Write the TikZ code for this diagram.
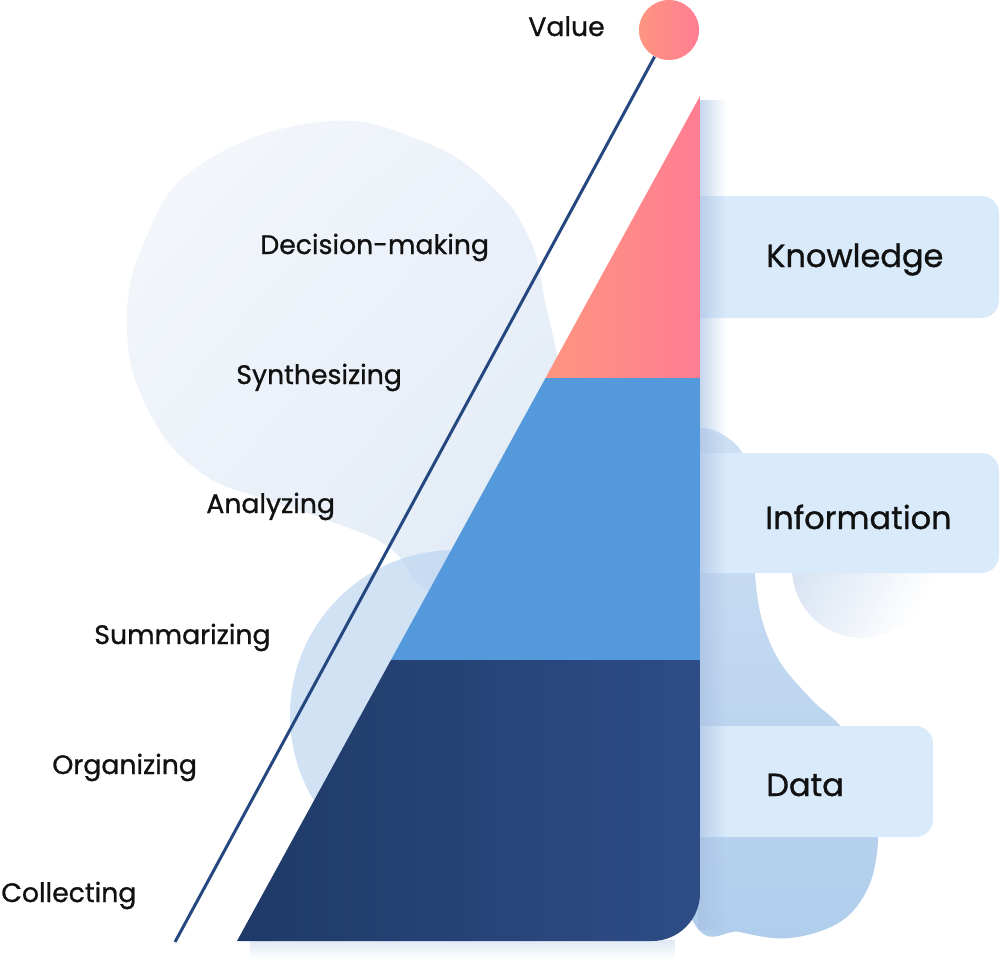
\documentclass[tikz,border=0pt]{standalone}
\usepackage{fontspec}
\setmainfont{Poppins}
\newfontfamily\labfont{Poppins}[FakeBold=0.9]
\usetikzlibrary{fadings,shadings}
\definecolor{boxc}{HTML}{D9EAFB}
\definecolor{navyline}{HTML}{25477F}
\definecolor{infoc}{HTML}{5599DD}
\definecolor{dataL}{HTML}{1F3A68}
\definecolor{dataR}{HTML}{2E4D86}
\definecolor{knowL}{HTML}{FF9580}
\definecolor{knowR}{HTML}{FF7D93}
\definecolor{blobA1}{HTML}{F5F8FC}
\definecolor{blobA2}{HTML}{DDE8F5}
\definecolor{blobA3}{HTML}{EBF1F9}
\definecolor{blobB}{HTML}{BCD5F0}
\definecolor{blobC1}{HTML}{D0E1F4}
\definecolor{blobC2}{HTML}{AFCDEC}
\definecolor{blobD}{HTML}{D3E0F1}
\definecolor{shadowc}{HTML}{A8C0E2}
\definecolor{textc}{HTML}{111111}
\begin{document}
\begin{tikzpicture}[x=0.02cm,y=-0.02cm,
  lab/.style={anchor=base west, inner sep=0pt, text=textc, font=\labfont\fontsize{15.2}{17}\selectfont},
  biglab/.style={anchor=base west, inner sep=0pt, text=textc, font=\labfont\fontsize{18.2}{21}\selectfont},
  tag/.style={fill=boxc, rounded corners=10pt},
  link/.style={draw=navyline, line width=1.7pt}]
\useasboundingbox (0,0) rectangle (1000,967);
% background blobs
\shade[upper left=blobA1, upper right=blobA3, lower left=blobA3, lower right=blobA2]
  plot[smooth cycle, tension=0.75] coordinates {(320,122) (420,140) (490,185) (530,240) (547,310) (565,380) (600,470) (520,620) (430,592) (390,548) (330,521) (267,500) (200,472) (150,413) (127,330) (145,240) (200,165)};
\fill[blobB, fill opacity=0.7] (455,715) circle[radius=3.3cm];
\shade[top color=blobC1, bottom color=blobC2]
  plot[smooth cycle, tension=0.6] coordinates {(660,440) (700,428) (728,438) (746,462) (752,520) (755,575) (762,620) (780,662) (812,700) (845,732) (872,790) (878,840) (868,888) (840,922) (790,938) (740,932) (690,915) (640,700)};
\shade[left color=blobD, right color=white, shading angle=60] (862,568) circle[radius=1.4cm];
% tag boxes
\fill[tag] (680,196) rectangle (999,318);
\fill[tag] (680,453) rectangle (999,573);
\fill[tag] (680,726) rectangle (933,837);
% pyramid shadow
\fill[shadowc, path fading=east, fill opacity=0.7] (698,100) rectangle (726,930);
\fill[shadowc, path fading=south, fill opacity=0.35] (250,940) rectangle (675,960);
% pyramid
\begin{scope}
  \clip (700,96) -- (700,893) .. controls (700,919.5) and (678.5,941) .. (652,941) -- (237,941) -- cycle;
  \shade[left color=knowL, right color=knowR] (546,90) rectangle (700,378);
  \fill[infoc] (230,378) rectangle (700,660);
  \shade[left color=dataL, right color=dataR] (237,660) rectangle (700,945);
\end{scope}
% value circle and line
\node[circle, minimum size=1.2cm, inner sep=0pt, left color=knowL, right color=knowR] (valuec) at (669,30) {};
\coordinate (lineend) at (175,942);
\draw[link] (lineend) -- (valuec);
% labels
\node[lab] (value) at (528,36) {Value};
\node[lab] (decision) at (260,254) {Decision-making};
\node[lab] (synth) at (236,384) {Synthesizing};
\node[lab] (analyz) at (206,513) {Analyzing};
\node[lab] (summ) at (94,644) {Summarizing};
\node[lab] (organ) at (52,774) {Organizing};
\node[lab] (collect) at (1,902) {Collecting};
\node[biglab] (know) at (766,267) {Knowledge};
\node[biglab] (info) at (765,529) {Information};
\node[biglab] (data) at (766,796) {Data};
\end{tikzpicture}
\end{document}
